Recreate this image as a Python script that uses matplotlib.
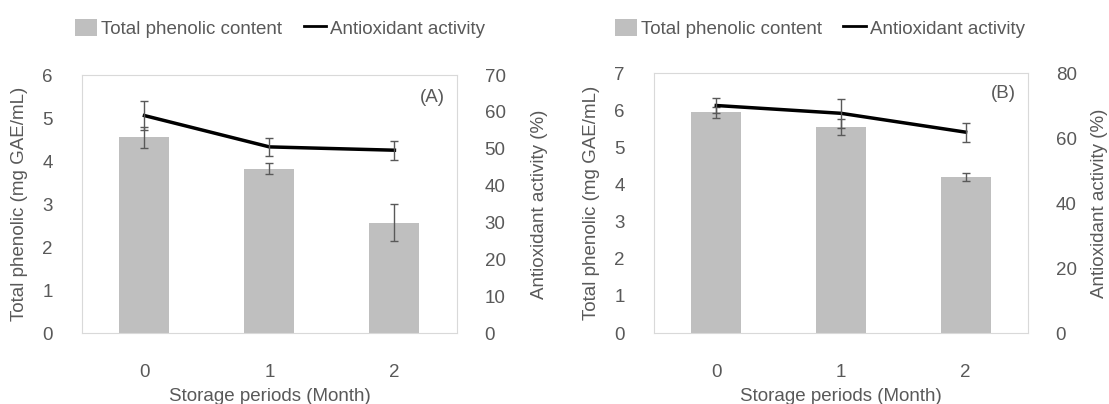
import matplotlib

matplotlib.use("Agg")
import matplotlib.pyplot as plt
from matplotlib.lines import Line2D
from matplotlib.patches import Patch

months = [0, 1, 2]
month_labels = ["0", "1", "2"]

# Panel A
phenolic_a = [4.55, 3.82, 2.57]
phenolic_a_err = [0.24, 0.13, 0.43]
antiox_a = [59.0, 50.5, 49.6]
antiox_a_err = [4.0, 2.5, 2.6]

# Panel B
phenolic_b = [5.94, 5.54, 4.19]
phenolic_b_err = [0.15, 0.22, 0.11]
antiox_b = [70.0, 67.6, 61.8]
antiox_b_err = [2.4, 4.5, 2.9]

BAR = "#BFBFBF"
TEXT = "#595959"
FRAME = "#D9D9D9"

plt.rcParams["font.family"] = ["Liberation Sans", "DejaVu Sans"]
plt.rcParams["font.size"] = 13.5

fig = plt.figure(figsize=(11.09, 4.04), dpi=100)


def panel(rect, phen, phen_err, anti, anti_err, ymax_l, ymax_r, rstep,
          tag, tag_y, leg_x, rpad):
    ax = fig.add_axes(rect)
    ax.bar(months, phen, width=0.4, color=BAR, zorder=1)
    ax.errorbar(months, phen, yerr=phen_err, fmt="none", ecolor=TEXT,
                elinewidth=1, capsize=3, capthick=1, zorder=2)
    ax.set_xlim(-0.5, 2.5)
    ax.set_ylim(0, ymax_l)
    ax.set_yticks(range(0, ymax_l + 1))
    ax.set_xticks(months)
    ax.set_xticklabels(month_labels)
    ax.set_xlabel("Storage periods (Month)", color=TEXT, labelpad=5)
    ax.set_ylabel("Total phenolic (mg GAE/mL)", color=TEXT, labelpad=10)
    ax.tick_params(length=0, colors=TEXT, pad=21)
    ax.tick_params(axis="x", pad=22)
    for s in ax.spines.values():
        s.set_color(FRAME)

    ax2 = ax.twinx()
    ax2.plot(months, anti, color="black", linewidth=2.5, zorder=3)
    ax2.errorbar(months, anti, yerr=anti_err, fmt="none", ecolor=TEXT,
                 elinewidth=1, capsize=3, capthick=1, zorder=4)
    ax2.set_ylim(0, ymax_r)
    ax2.set_yticks(range(0, ymax_r + 1, rstep))
    ax2.set_ylabel("Antioxidant activity (%)", color=TEXT, labelpad=rpad)
    ax2.tick_params(length=0, colors=TEXT, pad=20)
    for s in ax2.spines.values():
        s.set_visible(False)

    ax.text(0.968, tag_y, tag, transform=ax.transAxes, ha="right",
            va="center", color=TEXT)

    handles = [Patch(facecolor=BAR, edgecolor="none"),
               Line2D([0], [0], color="black", linewidth=2)]
    fig.legend(handles, ["Total phenolic content", "Antioxidant activity"],
               loc="center", bbox_to_anchor=(leg_x, 0.93), ncol=2,
               frameon=False, handlelength=1.2, handleheight=1.0,
               handletextpad=0.2, columnspacing=1.15, labelcolor=TEXT,
               borderpad=0, borderaxespad=0)


panel([0.0739, 0.1757, 0.3381, 0.6386], phenolic_a, phenolic_a_err,
      antiox_a, antiox_a_err, 6, 70, 10, "(A)", 0.911, 0.2525, 18)
panel([0.5897, 0.1757, 0.3372, 0.6436], phenolic_b, phenolic_b_err,
      antiox_b, antiox_b_err, 7, 80, 20, "(B)", 0.923, 0.739, 10)

fig.savefig("out.png", dpi=100)
